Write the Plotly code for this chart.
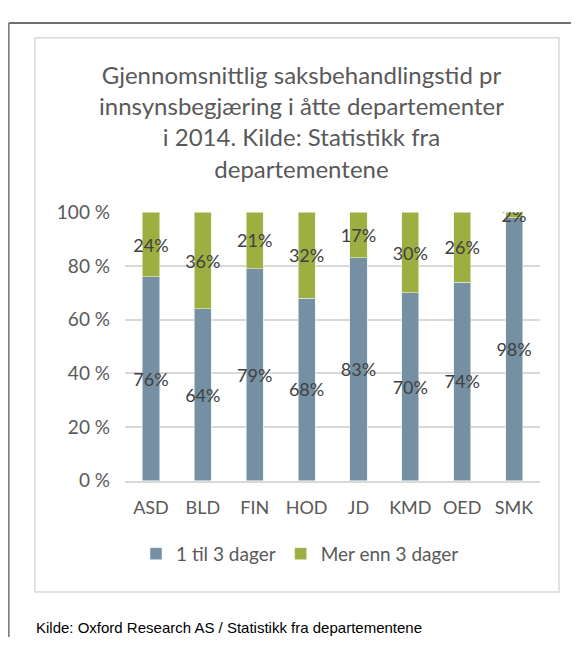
import plotly.graph_objects as go

categories = ["ASD", "BLD", "FIN", "HOD", "JD", "KMD", "OED", "SMK"]
series_1_3 = [76, 64, 79, 68, 83, 70, 74, 98]
series_mer = [24, 36, 21, 32, 17, 30, 26, 2]
label_1_3 = [f"{v}%" for v in series_1_3]
label_mer = [f"{v}%" for v in series_mer]
y_ticks = [0, 20, 40, 60, 80, 100]
y_ticktext = [f"{v} %" for v in y_ticks]

title_text = ("Gjennomsnittlig saksbehandlingstid pr<br>innsynsbegjæring i åtte departementer"
              "<br>i 2014. Kilde: Statistikk fra<br>departementene")
source_text = "Kilde: Oxford Research AS / Statistikk fra departementene"

# page body has an 8px margin on every side; size the figure to fit the window
OFF = 8
W, H = 579 - 2 * OFF, 656 - 2 * OFF
VS = 0.988  # measured vertical scale of the captured page
FONT = "Lato, Open Sans, sans-serif"
BLUE = "#7590A3"
GREEN = "#9CAF40"
TXT = "#595959"

fig = go.Figure()
fig.add_trace(go.Bar(
    x=categories, y=series_1_3, name="1 til 3 dager",
    marker=dict(color=BLUE, line=dict(color="#E8EEF2", width=0.6)),
    text=label_1_3, textposition="inside", insidetextanchor="middle",
    textangle=0, constraintext="none",
    textfont=dict(family=FONT, size=18, color="#404040"),
))
fig.add_trace(go.Bar(
    x=categories, y=series_mer, name="Mer enn 3 dager",
    marker=dict(color=GREEN, line=dict(color="#EEF2E0", width=0.6)),
    text=label_mer, textposition="inside", insidetextanchor="middle",
    textangle=0, constraintext="none",
    textfont=dict(family=FONT, size=18, color="#404040"),
))

def px_x(v):
    return min(max((v - OFF) / W, 0.0), 1.0)

def px_y(v):
    return min(max(1 - (v / VS - OFF) / H, 0.0), 1.0)

fig.update_layout(
    width=W, height=H,
    margin=dict(l=0, r=0, t=0, b=0),
    paper_bgcolor="white", plot_bgcolor="white",
    barmode="stack", bargap=0.67,
    uniformtext=dict(mode="show", minsize=18),
    font=dict(family=FONT, color=TXT),
    showlegend=True,
    legend=dict(orientation="h", x=px_x(300), xanchor="center",
                y=px_y(555), yanchor="middle",
                font=dict(family=FONT, size=19, color=TXT),
                itemwidth=30, traceorder="normal"),
    xaxis=dict(domain=[px_x(125), px_x(540)], showgrid=False,
               showline=True, linecolor="#D9D9D9", linewidth=1.5,
               tickfont=dict(family=FONT, size=18, color=TXT),
               ticks="", ticklabelstandoff=10, fixedrange=True),
    yaxis=dict(domain=[px_y(480), px_y(205)], range=[0, 100],
               tickvals=y_ticks, ticktext=y_ticktext,
               showgrid=True, gridcolor="#D9D9D9", gridwidth=1.5,
               zeroline=False, showline=False,
               tickfont=dict(family=FONT, size=19, color=TXT),
               ticks="", ticklabelstandoff=14, fixedrange=True),
    shapes=[
        dict(type="rect", xref="paper", yref="paper",
             x0=px_x(35), x1=px_x(559), y0=px_y(594), y1=px_y(26),
             line=dict(color="#D9D9D9", width=1.5), layer="below"),
        dict(type="line", xref="paper", yref="paper",
             x0=0.0015, x1=1.0, y0=px_y(11), y1=px_y(11),
             line=dict(color="#404040", width=1.5)),
        dict(type="line", xref="paper", yref="paper",
             x0=0.0015, x1=0.0015, y0=0, y1=px_y(11),
             line=dict(color="#707070", width=1.5)),
    ],
    annotations=[
        dict(text=title_text, xref="paper", yref="paper",
             x=px_x(301), y=px_y(112), xanchor="center", yanchor="middle",
             showarrow=False, align="center",
             font=dict(family=FONT, size=24, color=TXT)),
        dict(text=source_text, xref="paper", yref="paper",
             x=px_x(35), y=0, xanchor="left", yanchor="bottom",
             showarrow=False, borderpad=0,
             font=dict(family="Liberation Sans, Arial", size=15, color="#000000")),
    ],
)

fig.write_html("out.html")
